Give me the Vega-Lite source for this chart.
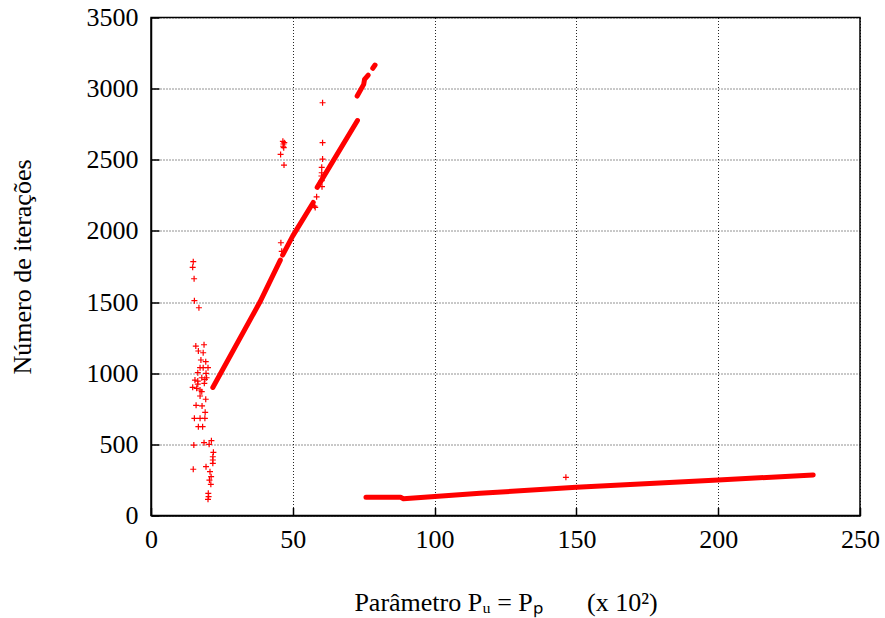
{
  "$schema": "https://vega.github.io/schema/vega-lite/v6.json",
  "autosize": "none",
  "width": 709,
  "height": 498,
  "padding": {"left": 151, "top": 17.5, "right": 25, "bottom": 102.5},
  "background": "white",
  "config": {
    "view": {"stroke": "black", "strokeWidth": 1.5},
    "font": "Liberation Serif",
    "axis": {
      "labelFont": "Liberation Serif",
      "titleFont": "Liberation Serif",
      "labelFontSize": 26,
      "titleFontSize": 26,
      "titleFontWeight": "normal",
      "labelColor": "black",
      "titleColor": "black",
      "domainColor": "black",
      "domainWidth": 1.5,
      "tickColor": "black",
      "tickWidth": 1.5,
      "tickSize": -8,
      "gridColor": "black",
      "gridDash": [1, 2],
      "gridOpacity": 0.85,
      "gridWidth": 1
    }
  },
  "datasets": {
    "lines": [
      {"seg": "A", "x": 21.8, "y": 900},
      {"seg": "A", "x": 38.4, "y": 1500},
      {"seg": "A", "x": 45.6, "y": 1795},
      {"seg": "B", "x": 46.4, "y": 1830},
      {"seg": "B", "x": 50.0, "y": 1965},
      {"seg": "B", "x": 57.2, "y": 2200},
      {"seg": "C", "x": 58.6, "y": 2306},
      {"seg": "C", "x": 72.8, "y": 2776},
      {"seg": "D", "x": 72.7, "y": 2948},
      {"seg": "D", "x": 75.0, "y": 3030},
      {"seg": "D", "x": 75.3, "y": 3065},
      {"seg": "D", "x": 76.6, "y": 3095},
      {"seg": "E", "x": 78.2, "y": 3143},
      {"seg": "E", "x": 79.0, "y": 3166},
      {"seg": "F", "x": 75.8, "y": 128},
      {"seg": "F", "x": 88.0, "y": 128},
      {"seg": "F", "x": 89.0, "y": 118},
      {"seg": "F", "x": 116.0, "y": 156},
      {"seg": "F", "x": 150.0, "y": 199},
      {"seg": "F", "x": 200.0, "y": 249.5},
      {"seg": "F", "x": 233.5, "y": 285}
    ],
    "pts": [
      {"x": 14.9, "y": 1784}, {"x": 14.7, "y": 1744}, {"x": 15.2, "y": 1664}, {"x": 15.3, "y": 1510},
      {"x": 16.9, "y": 1460}, {"x": 15.8, "y": 1191}, {"x": 18.7, "y": 1200}, {"x": 16.7, "y": 1156},
      {"x": 18.4, "y": 1144}, {"x": 17.6, "y": 1093}, {"x": 19.3, "y": 1081}, {"x": 17.3, "y": 1039},
      {"x": 18.4, "y": 1039}, {"x": 20.1, "y": 1039}, {"x": 16.5, "y": 1004}, {"x": 19.4, "y": 999},
      {"x": 17.9, "y": 968}, {"x": 19.6, "y": 968}, {"x": 15.5, "y": 952}, {"x": 16.5, "y": 945},
      {"x": 19.0, "y": 957}, {"x": 18.8, "y": 929}, {"x": 16.5, "y": 924}, {"x": 14.7, "y": 901},
      {"x": 16.1, "y": 894}, {"x": 17.3, "y": 882}, {"x": 17.9, "y": 870}, {"x": 17.3, "y": 840},
      {"x": 19.3, "y": 817}, {"x": 15.9, "y": 774}, {"x": 18.0, "y": 770}, {"x": 19.1, "y": 725},
      {"x": 15.3, "y": 683}, {"x": 17.3, "y": 683}, {"x": 19.0, "y": 683}, {"x": 16.7, "y": 624},
      {"x": 18.2, "y": 624}, {"x": 15.1, "y": 495}, {"x": 18.7, "y": 512}, {"x": 20.5, "y": 500},
      {"x": 21.3, "y": 526}, {"x": 22.0, "y": 444}, {"x": 21.8, "y": 413}, {"x": 21.8, "y": 390},
      {"x": 21.8, "y": 367}, {"x": 14.9, "y": 325}, {"x": 19.4, "y": 343}, {"x": 20.8, "y": 308},
      {"x": 21.2, "y": 273}, {"x": 20.6, "y": 249}, {"x": 21.1, "y": 219}, {"x": 20.2, "y": 156},
      {"x": 20.3, "y": 132}, {"x": 20.1, "y": 114},
      {"x": 45.8, "y": 1917}, {"x": 46.1, "y": 1857},
      {"x": 46.7, "y": 2611}, {"x": 46.5, "y": 2630}, {"x": 47.0, "y": 2620}, {"x": 46.6, "y": 2595},
      {"x": 46.8, "y": 2585}, {"x": 45.7, "y": 2538}, {"x": 46.9, "y": 2463},
      {"x": 60.5, "y": 2901}, {"x": 60.5, "y": 2620}, {"x": 60.5, "y": 2505}, {"x": 60.2, "y": 2447},
      {"x": 60.2, "y": 2409}, {"x": 60.1, "y": 2386}, {"x": 60.2, "y": 2353}, {"x": 60.3, "y": 2311},
      {"x": 57.6, "y": 2175}, {"x": 57.9, "y": 2165}, {"x": 58.4, "y": 2240},
      {"x": 146.3, "y": 268}
    ]
  },
  "layer": [
    {
      "data": {"name": "lines"},
      "mark": {"type": "line", "color": "#ff0000", "strokeWidth": 5, "strokeCap": "round", "strokeJoin": "round"},
      "encoding": {
        "x": {
          "field": "x", "type": "quantitative",
          "scale": {"domain": [0, 250], "nice": false},
          "axis": {"values": [0, 50, 100, 150, 200, 250], "format": "d", "labelPadding": 18.5, "title": "Parâmetro Pᵤ = Pₚ\u2003\u2002\u2009(x 10²)", "titlePadding": 37, "labelFlush": false}
        },
        "y": {
          "field": "y", "type": "quantitative",
          "scale": {"domain": [0, 3500], "nice": false},
          "axis": {"values": [0, 500, 1000, 1500, 2000, 2500, 3000, 3500], "format": "d", "labelPadding": 21, "title": "Número de iterações", "titlePadding": 51}
        },
        "detail": {"field": "seg"}
      }
    },
    {
      "data": {"name": "pts"},
      "mark": {"type": "point", "shape": "M-1,0L1,0M0,-1L0,1", "filled": false, "color": "#ff0000", "strokeWidth": 1.2, "size": 36, "opacity": 1},
      "encoding": {
        "x": {"field": "x", "type": "quantitative"},
        "y": {"field": "y", "type": "quantitative"}
      }
    }
  ]
}
